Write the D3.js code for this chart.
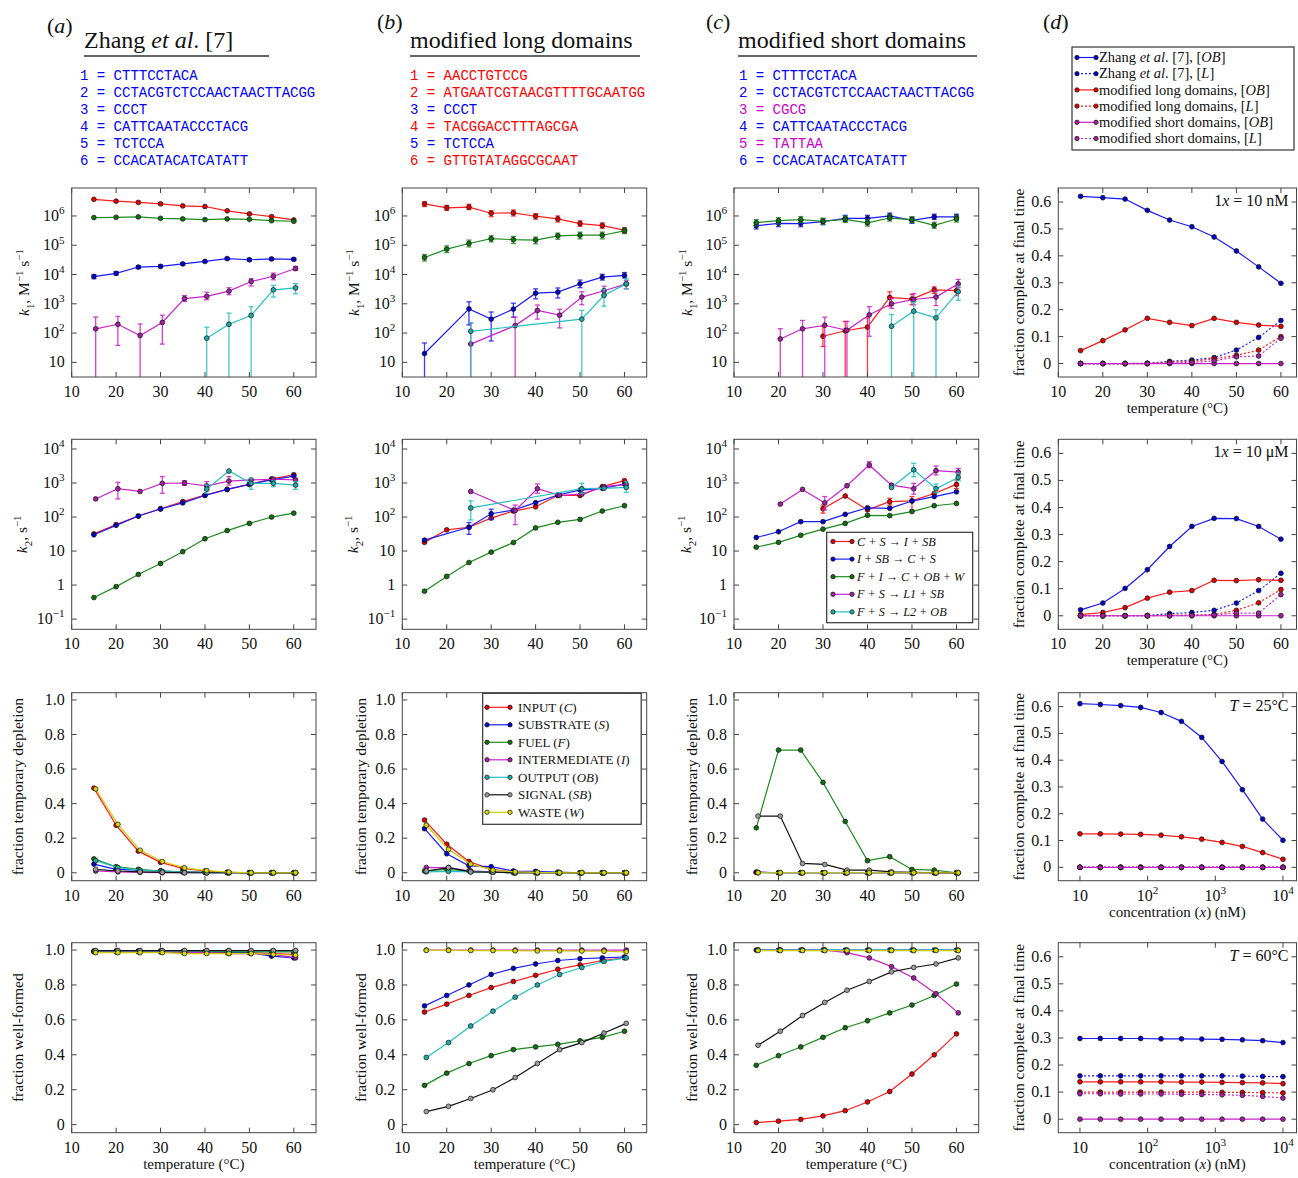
<!DOCTYPE html>
<html><head><meta charset="utf-8">
<script src="https://cdn.jsdelivr.net/npm/d3@7"></script>
<style>body{margin:0;background:#fff} text{font-family:"Liberation Serif","Times New Roman",serif;fill:#111}</style>
</head><body>
<script>
// ---------- axes values ----------
const temps = [15,20,25,30,35,40,45,50,55,60];
const tempsOff = [15.4,20.4,25.4,30.4,35.4,40.4,45.4,50.4,55.4,60.4];
const concs = [10,20,40,79,158,316,631,1259,2512,5012,10000];
const tempTicks = [10,20,30,40,50,60];
const k1Ticks = [10,1e2,1e3,1e4,1e5,1e6];
const k2Ticks = [0.1,1,10,1e2,1e3,1e4];
const fracTicks = [0,0.2,0.4,0.6,0.8,1.0];
const fcTicks = [0,0.1,0.2,0.3,0.4,0.5,0.6];
const concTicks = [10,1e2,1e3,1e4];
const reactionLabels = ["C + S \u2192 I + SB","I + SB \u2192 C + S","F + I \u2192 C + OB + W","F + S \u2192 L1 + SB","F + S \u2192 L2 + OB"];
const speciesLabels = [["INPUT","C"],["SUBSTRATE","S"],["FUEL","F"],["INTERMEDIATE","I"],["OUTPUT","OB"],["SIGNAL","SB"],["WASTE","W"]];
const seqA = ["CTTTCCTACA","CCTACGTCTCCAACTAACTTACGG","CCCT","CATTCAATACCCTACG","TCTCCA","CCACATACATCATATT"];
const seqB = ["AACCTGTCCG","ATGAATCGTAACGTTTTGCAATGG","CCCT","TACGGACCTTTAGCGA","TCTCCA","GTTGTATAGGCGCAAT"];
const seqC = ["CTTTCCTACA","CCTACGTCTCCAACTAACTTACGG","CGCG","CATTCAATACCCTACG","TATTAA","CCACATACATCATATT"];
const seqColB = ["red","red","blue","red","blue","red"];
const seqColC = ["blue","blue","magenta","blue","magenta","blue"];

// ---------- k1 (row 1) ----------
const k1A_C = [3.7e6,3.2e6,2.9e6,2.6e6,2.2e6,2.1e6,1.5e6,1.17e6,9.5e5,7.3e5];
const k1A_I = [8.5e3,1.1e4,1.8e4,1.9e4,2.3e4,2.8e4,3.5e4,3.2e4,3.4e4,3.3e4];
const k1A_Ilo = [7.2e3,9.5e3,1.6e4,1.7e4,2.1e4,2.6e4,3.2e4,2.9e4,3.1e4,3.0e4];
const k1A_Ihi = [1.0e4,1.25e4,2.0e4,2.1e4,2.5e4,3.0e4,3.8e4,3.5e4,3.7e4,3.6e4];
const k1A_F = [8.8e5,9.0e5,9.3e5,8.3e5,7.9e5,7.5e5,7.9e5,7.7e5,6.9e5,6.6e5];
const k1A_L1 = [140,200,83,230,1500,1800,2700,5800,8700,16000];
const k1A_L1lo = [1,38,1,42,1200,1380,2040,4070,6600,13800];
const k1A_L1hi = [355,370,204,407,1900,2500,3550,7240,11200,19000];
const k1A_L2 = [null,null,null,null,null,67,200,400,3000,3500];
const k1A_L2lo = [null,null,null,null,null,1,1,1,1700,2190];
const k1A_L2hi = [null,null,null,null,null,158,480,800,4270,4900];

const k1B_C = [2.6e6,1.9e6,2.0e6,1.24e6,1.27e6,9.8e5,7.9e5,5.5e5,4.7e5,3.3e5];
const k1B_Clo = [2.1e6,1.55e6,1.65e6,9.5e5,1.0e6,7.8e5,6.2e5,4.4e5,3.8e5,2.7e5];
const k1B_Chi = [3.0e6,2.3e6,2.5e6,1.5e6,1.6e6,1.2e6,1.0e6,6.8e5,5.8e5,4.0e5];
const k1B_I = [20,null,670,300,660,2300,2500,4800,8100,9300];
const k1B_Ilo = [1,null,190,54,350,1480,1580,3550,6460,7600];
const k1B_Ihi = [46,null,1175,525,1050,3240,3470,6460,10200,11700];
const k1B_F = [3.8e4,7.4e4,1.15e5,1.67e5,1.55e5,1.5e5,2.1e5,2.2e5,2.2e5,3.1e5];
const k1B_Flo = [2.9e4,5.6e4,8.8e4,1.3e5,1.15e5,1.12e5,1.6e5,1.65e5,1.65e5,2.5e5];
const k1B_Fhi = [4.8e4,9.5e4,1.5e5,2.1e5,2.0e5,1.9e5,2.6e5,2.8e5,2.8e5,3.8e5];
const k1B_L1 = [null,null,42,null,180,590,410,1700,2800,4800];
const k1B_L1lo = [null,null,1,null,1,300,150,930,1900,3240];
const k1B_L1hi = [null,null,220,null,355,910,650,2570,3980,6300];
const k1B_L2 = [null,null,115,null,null,null,null,300,1950,4800];
const k1B_L2lo = [null,null,1,null,null,null,null,1,830,3240];
const k1B_L2hi = [null,null,224,null,null,null,null,600,3100,7100];

const k1C_C = [null,null,null,78,120,160,1650,1450,3000,2800];
const k1C_Clo = [null,null,null,35,1,1,830,930,2240,1900];
const k1C_Chi = [null,null,null,170,250,330,2570,2100,3800,3800];
const k1C_I = [4.6e5,5.6e5,5.5e5,6.4e5,8.3e5,8.3e5,1.0e6,7.1e5,9.3e5,9.3e5];
const k1C_Ilo = [3.6e5,4.3e5,4.3e5,5.0e5,6.5e5,6.5e5,8.0e5,5.6e5,7.6e5,7.6e5];
const k1C_Ihi = [5.8e5,7.0e5,6.9e5,8.0e5,1.05e6,1.05e6,1.25e6,8.9e5,1.15e6,1.15e6];
const k1C_F = [5.9e5,6.9e5,7.5e5,6.6e5,7.7e5,5.8e5,8.5e5,7.5e5,4.8e5,7.9e5];
const k1C_Flo = [4.6e5,5.4e5,5.9e5,5.2e5,6.0e5,4.5e5,6.7e5,5.9e5,3.8e5,6.2e5];
const k1C_Fhi = [7.5e5,8.8e5,9.5e5,8.4e5,9.8e5,7.4e5,1.08e6,9.5e5,6.1e5,1.0e6];
const k1C_L1 = [null,63,140,185,125,420,1000,1400,1700,4800];
const k1C_L1lo = [null,1,1,1,1,78,700,930,870,3550];
const k1C_L1hi = [null,141,270,350,250,800,1500,2240,2700,6800];
const k1C_L2 = [null,null,null,null,null,null,170,560,330,2600];
const k1C_L2lo = [null,null,null,null,null,null,1,1,1,1320];
const k1C_L2hi = [null,null,null,null,null,null,430,1150,630,4000];

// ---------- k2 (row 2) ----------
const k2A_C = [32,60,107,175,285,440,650,910,1320,1750];
const k2A_I = [30,57,107,172,260,430,650,910,1230,1600];
const k2A_F = [0.43,0.9,2.05,4.3,9.6,23,40,65,100,130];
const k2A_L1 = [340,680,565,980,1000,820,1140,1230,1290,1230];
const k2A_L1lo = [null,340,null,500,850,620,870,null,null,null];
const k2A_L1hi = [null,1050,null,1550,1170,1100,1550,null,null,null];
const k2A_L2 = [null,null,null,null,null,660,2250,980,980,870];
const k2A_L2lo = [null,null,null,null,null,500,null,650,780,650];
const k2A_L2hi = [null,null,null,null,null,870,null,1380,1170,1100];

const k2B_C = [18,42,50,93,150,200,430,430,780,1170];
const k2B_I = [21,null,50,125,160,265,445,620,700,930];
const k2B_Ilo = [null,null,31,85,null,null,null,null,null,null];
const k2B_Ihi = [null,null,69,170,null,null,null,null,null,null];
const k2B_F = [0.66,1.8,4.6,9.3,17.8,48,70,85,150,215];
const k2B_L1 = [null,null,565,null,155,680,435,470,780,910];
const k2B_L1lo = [null,null,null,null,60,500,null,null,null,null];
const k2B_L1hi = [null,null,null,null,225,940,null,null,null,null];
const k2B_L2 = [null,null,185,null,null,null,null,680,700,740];
const k2B_L2lo = [null,null,82,null,null,null,null,500,null,525];
const k2B_L2hi = [null,null,300,null,null,null,null,980,null,1100];

const k2C_C = [null,null,null,175,415,162,282,300,490,910];
const k2C_Clo = [null,null,null,130,null,null,225,160,null,690];
const k2C_Chi = [null,null,null,225,null,null,355,400,null,1230];
const k2C_I = [25,37,73,73,120,187,180,295,400,550];
const k2C_F = [13,18,29,44,65,112,110,145,215,250];
const k2C_L1 = [null,240,650,260,830,3400,870,680,2300,2100];
const k2C_L1lo = [null,null,null,162,null,2830,null,470,1730,1730];
const k2C_L1hi = [null,null,null,400,null,4240,null,980,3160,2700];
const k2C_L2 = [null,null,null,null,null,null,740,2450,680,1460];
const k2C_L2lo = [null,null,null,null,null,null,null,1540,520,1170];
const k2C_L2hi = [null,null,null,null,null,null,null,3800,930,1930];

// ---------- temporary depletion (row 3) ----------
const depA_C = [0.49,0.275,0.125,0.06,0.025,0.01,0.003,0,0,0];
const depA_S = [0.05,0.02,0.015,0.01,0.005,0.003,0.002,0,0,0];
const depA_F = [0.08,0.035,0.02,0.01,0.005,0.002,0,0,0,0];
const depA_I = [0.01,0.005,0.002,0,0,0,0,0,0,0];
const depA_OB = [0.07,0.03,0.015,0.008,0.003,0,0,0,0,0];
const depA_SB = [0.02,0.01,0.005,0.002,0,0,0,0,0,0];
const depA_W = [0.485,0.28,0.13,0.065,0.028,0.012,0.004,0,0,0];

const depB_C = [0.305,0.165,0.065,0.02,0.005,0.002,0,0,0,0];
const depB_S = [0.255,0.11,0.04,0.035,0.01,0.008,0.004,0,0,0];
const depB_F = [0.01,0.02,0.01,0.005,0,0,0,0,0,0];
const depB_I = [0.03,0.03,0.01,0.005,0,0,0,0,0,0];
const depB_OB = [0.005,0.008,0.005,0.003,0,0,0,0,0,0];
const depB_SB = [0.01,0.03,0.005,0.003,0,0,0,0,0,0];
const depB_W = [0.275,0.135,0.05,0.015,0.005,0.002,0,0,0,0];

const depC_C = [0.003,0,0,0,0,0,0,0,0,0];
const depC_S = [0.003,0,0,0,0,0,0,0,0,0];
const depC_F = [0.26,0.71,0.71,0.523,0.297,0.07,0.093,0.019,0.015,0];
const depC_I = [0.002,0,0,0,0,0,0,0,0,0];
const depC_OB = [0,0,0,0,0,0,0,0,0,0];
const depC_SB = [0.328,0.328,0.054,0.048,0.015,0.015,0.005,0.003,0,0];
const depC_W = [0,0,0,0,0,0,0,0,0,0];

// ---------- well-formed (row 4) ----------
const wfA_C = [0.99,0.99,0.99,0.99,0.99,0.99,0.985,0.985,0.98,0.975];
const wfA_S = [0.995,0.995,0.995,0.995,0.99,0.99,0.99,0.985,0.965,0.955];
const wfA_F = [0.99,0.99,0.99,0.99,0.99,0.99,0.99,0.99,0.99,0.99];
const wfA_I = [0.99,0.99,0.99,0.99,0.99,0.985,0.98,0.98,0.975,0.955];
const wfA_OB = [0.995,0.995,0.995,0.995,0.995,0.995,0.995,0.995,0.995,0.995];
const wfA_SB = [0.997,0.997,0.997,0.997,0.997,0.997,0.997,0.997,0.997,0.997];
const wfA_W = [0.985,0.985,0.985,0.985,0.98,0.98,0.98,0.98,0.975,0.97];

const wfB_C = [0.645,0.69,0.74,0.785,0.82,0.855,0.89,0.915,0.94,0.955];
const wfB_S = [0.68,0.74,0.8,0.86,0.895,0.92,0.94,0.95,0.955,0.96];
const wfB_F = [0.225,0.295,0.35,0.395,0.43,0.445,0.46,0.48,0.5,0.535];
const wfB_I = [1,1,1,1,1,1,1,1,1,1];
const wfB_OB = [0.385,0.47,0.565,0.65,0.73,0.8,0.86,0.9,0.935,0.955];
const wfB_SB = [0.075,0.105,0.15,0.2,0.27,0.35,0.43,0.47,0.525,0.58];
const wfB_W = [0.998,0.998,0.997,0.997,0.996,0.995,0.995,0.994,0.993,0.99];

const wfC_C = [0.012,0.02,0.03,0.05,0.08,0.13,0.19,0.29,0.4,0.52];
const wfC_S = [1,1,1,1,1,1,1,1,1,1];
const wfC_F = [0.34,0.395,0.445,0.5,0.555,0.595,0.64,0.685,0.74,0.805];
const wfC_I = [1,1,1,1,0.985,0.955,0.905,0.84,0.75,0.64];
const wfC_OB = [1,1,1,1,1,1,1,1,1,1];
const wfC_SB = [0.455,0.535,0.625,0.7,0.77,0.82,0.875,0.9,0.92,0.955];
const wfC_W = [0.997,0.997,0.997,0.997,0.997,0.997,0.997,0.997,0.997,0.997];

// ---------- fraction complete (column d) ----------
const fc10nM_ZOB = [0.621,0.616,0.611,0.569,0.533,0.508,0.47,0.418,0.359,0.298];
const fc10nM_ZL  = [0,0,0,0.001,0.008,0.013,0.022,0.05,0.097,0.16];
const fc10nM_LOB = [0.048,0.085,0.125,0.168,0.153,0.141,0.168,0.153,0.143,0.138];
const fc10nM_LL  = [0,0,0,0,0.005,0.008,0.018,0.03,0.05,0.1];
const fc10nM_SOB = [0,0,0,0,0,0,0,0,0,0];
const fc10nM_SL  = [0,0,0,0,0.002,0.004,0.01,0.025,0.028,0.094];

const fc10uM_ZOB = [0.022,0.047,0.101,0.17,0.256,0.33,0.36,0.359,0.33,0.283];
const fc10uM_ZL  = [0,0,0,0.001,0.008,0.012,0.02,0.047,0.093,0.157];
const fc10uM_LOB = [0.004,0.012,0.03,0.065,0.087,0.093,0.131,0.13,0.133,0.131];
const fc10uM_LL  = [0,0,0,0,0.002,0.003,0.005,0.02,0.048,0.097];
const fc10uM_SOB = [0,0,0,0,0,0,0,0,0,0];
const fc10uM_SL  = [0,0,0,0,0,0.001,0.003,0.01,0.01,0.078];

const fcT25_ZOB = [0.611,0.608,0.604,0.597,0.578,0.545,0.485,0.395,0.29,0.18,0.101];
const fcT25_ZL  = [0,0,0,0,0,0,0,0,0,0,0];
const fcT25_LOB = [0.125,0.125,0.124,0.123,0.12,0.114,0.105,0.093,0.078,0.055,0.03];
const fcT25_LL  = [0,0,0,0,0,0,0,0,0,0,0];
const fcT25_SOB = [0,0,0,0,0,0,0,0,0,0,0];
const fcT25_SL  = [0,0,0,0,0,0,0,0,0,0,0];

const fcT60_ZOB = [0.298,0.298,0.298,0.298,0.297,0.297,0.296,0.295,0.293,0.29,0.283];
const fcT60_ZL  = [0.16,0.16,0.16,0.16,0.16,0.16,0.16,0.16,0.159,0.158,0.157];
const fcT60_LOB = [0.138,0.138,0.138,0.138,0.138,0.137,0.137,0.136,0.135,0.134,0.131];
const fcT60_LL  = [0.1,0.1,0.1,0.1,0.1,0.1,0.1,0.099,0.099,0.098,0.097];
const fcT60_SOB = [0,0,0,0,0,0,0,0,0,0,0];
const fcT60_SL  = [0.094,0.094,0.093,0.093,0.093,0.092,0.091,0.09,0.088,0.084,0.078];

// ---------- styling ----------
const LINE = {red:"#ff1a1a", blue:"#1a1aff", green:"#1e8c1e", magenta:"#cc22cc", cyan:"#22c0c0", black:"#111111", yellow:"#cccc00"};
const FILL = {red:"#e00000", blue:"#0000c8", green:"#0f700f", magenta:"#a020a0", cyan:"#20a8a8", black:"#9a9a9a", yellow:"#d8d800"};
const SEQCOL = {blue:"#0000ff", red:"#ff0000", magenta:"#cc00cc"};
const reactionKeys = ["red","blue","green","magenta","cyan"];
const speciesKeys = ["red","blue","green","magenta","cyan","black","yellow"];

const svg = d3.select("body").append("svg").attr("width",1298).attr("height",1178);
const defs = svg.append("defs");

function rich(t, parts, size) {
  let cur = 0;
  parts.forEach(p => {
    const [txt, st] = Array.isArray(p) ? p : [p, ""];
    const ts = t.append("tspan").text(txt);
    let target = 0;
    if (st && st.includes("sup")) target = -0.42*size;
    if (st && st.includes("sub")) target = 0.3*size;
    if (target !== cur) ts.attr("dy", target - cur);
    cur = target;
    if (st && (st.includes("sup")||st.includes("sub"))) ts.attr("font-size", size*0.7);
    if (st && st.includes("i")) ts.attr("font-style","italic");
  });
  return t;
}
function logParts(v) {
  const e = Math.round(Math.log10(v));
  if (e === 0) return ["1"];
  if (e === 1) return ["10"];
  return ["10", [e < 0 ? "\u2212" + (-e) : String(e), "sup"]];
}

let clipN = 0;
function panel(p) {
  const g = svg.append("g");
  const x = p.x, y = p.y;
  const [x0, x1] = x.range();
  const [yb, yt] = y.range();
  const id = "clip" + (clipN++);
  defs.append("clipPath").attr("id", id).append("rect")
    .attr("x", x0).attr("y", yt).attr("width", x1 - x0).attr("height", yb - yt);
  const inner = g.append("g").attr("clip-path", `url(#${id})`);
  p.series.forEach(s => {
    const pts = s.y.map((v, i) => ({x: s.x[i], y: v, lo: s.lo ? s.lo[i] : null, hi: s.hi ? s.hi[i] : null}))
      .filter(d => d.y != null);
    const col = LINE[s.key];
    pts.filter(d => d.lo != null && d.hi != null).forEach(d => {
      const px = x(d.x), a = y(d.lo), b = y(d.hi);
      inner.append("line").attr("x1", px).attr("x2", px).attr("y1", a).attr("y2", b)
        .attr("stroke", col).attr("stroke-width", 1.3).attr("opacity", 0.85);
      [a, b].forEach(c => inner.append("line").attr("x1", px - 2.5).attr("x2", px + 2.5).attr("y1", c).attr("y2", c)
        .attr("stroke", col).attr("stroke-width", 1.3).attr("opacity", 0.85));
    });
    inner.append("path").datum(pts)
      .attr("d", d3.line().x(d => x(d.x)).y(d => y(d.y)))
      .attr("fill", "none").attr("stroke", col).attr("stroke-width", 1.2)
      .attr("stroke-dasharray", s.dash ? "2,2" : null);
    inner.selectAll(null).data(pts).join("circle")
      .attr("cx", d => x(d.x)).attr("cy", d => y(d.y)).attr("r", 2.4)
      .attr("fill", FILL[s.key]).attr("stroke", "#111").attr("stroke-width", 0.7);
  });
  // frame
  g.append("rect").attr("x", x0).attr("y", yt).attr("width", x1 - x0).attr("height", yb - yt)
    .attr("fill", "none").attr("stroke", "#444").attr("stroke-width", 1);
  // ticks
  p.xTicks.forEach(v => {
    const px = x(v);
    g.append("line").attr("x1", px).attr("x2", px).attr("y1", yb).attr("y2", yb - 5).attr("stroke", "#444");
    g.append("line").attr("x1", px).attr("x2", px).attr("y1", yt).attr("y2", yt + 5).attr("stroke", "#444");
    const t = g.append("text").attr("x", px).attr("y", yb + 20).attr("text-anchor", "middle").attr("font-size", 16);
    rich(t, p.xFmt(v), 16);
  });
  p.yTicks.forEach(v => {
    const py = y(v);
    g.append("line").attr("x1", x0).attr("x2", x0 + 5).attr("y1", py).attr("y2", py).attr("stroke", "#444");
    g.append("line").attr("x1", x1).attr("x2", x1 - 5).attr("y1", py).attr("y2", py).attr("stroke", "#444");
    const t = g.append("text").attr("x", x0 - 7).attr("y", py + 5).attr("text-anchor", "end").attr("font-size", 16);
    rich(t, p.yFmt(v), 16);
  });
  // y label
  if (p.yLabel) {
    const cy = (yt + yb) / 2;
    const t = g.append("text").attr("transform", `translate(${p.yLabelX},${cy}) rotate(-90)`)
      .attr("text-anchor", "middle").attr("font-size", 15.5).attr("dy", "0.35em");
    rich(t, p.yLabel, 15.5);
  }
  if (p.xLabel) {
    const t = g.append("text").attr("x", (x0 + x1) / 2).attr("y", yb + 36).attr("text-anchor", "middle").attr("font-size", 15);
    rich(t, p.xLabel, 15);
  }
  if (p.note) {
    const t = g.append("text").attr("x", x1 - 8).attr("y", yt + 18).attr("text-anchor", "end").attr("font-size", 16);
    rich(t, p.note, 16);
  }
  return g;
}

// ---------- layout ----------
const colX = [71.7, 402.3, 734, 1058.3];
const colR = [316, 646.7, 978.7, 1296.5];
const rowT = [188, 439.3, 692.7, 942.7];
const rowB = [377, 629.3, 880.7, 1132.7];
const labX = [[24, 354, 687, 1019], [22, 353, 686, 1019], [18, 361, 692, 1019], [18, 361, 692, 1019]];

const fmtPlain = v => [String(v)];
const fmtFrac = v => [v === 0 ? "0" : v.toFixed(1)];
const k1Label = [["k","i"],["1","sub"],", M",["\u22121","sup"]," s",["\u22121","sup"]];
const k2Label = [["k","i"],["2","sub"],", s",["\u22121","sup"]];
const tempLabel = ["temperature (\u00b0C)"];

function sx(c) { return d3.scaleLinear([10, 65], [colX[c], colR[c]]); }

const k1Data = [
  [[k1A_C,null,null],[k1A_I,k1A_Ilo,k1A_Ihi],[k1A_F,null,null],[k1A_L1,k1A_L1lo,k1A_L1hi],[k1A_L2,k1A_L2lo,k1A_L2hi]],
  [[k1B_C,k1B_Clo,k1B_Chi],[k1B_I,k1B_Ilo,k1B_Ihi],[k1B_F,k1B_Flo,k1B_Fhi],[k1B_L1,k1B_L1lo,k1B_L1hi],[k1B_L2,k1B_L2lo,k1B_L2hi]],
  [[k1C_C,k1C_Clo,k1C_Chi],[k1C_I,k1C_Ilo,k1C_Ihi],[k1C_F,k1C_Flo,k1C_Fhi],[k1C_L1,k1C_L1lo,k1C_L1hi],[k1C_L2,k1C_L2lo,k1C_L2hi]]
];
const k2Data = [
  [[k2A_C,null,null],[k2A_I,null,null],[k2A_F,null,null],[k2A_L1,k2A_L1lo,k2A_L1hi],[k2A_L2,k2A_L2lo,k2A_L2hi]],
  [[k2B_C,null,null],[k2B_I,k2B_Ilo,k2B_Ihi],[k2B_F,null,null],[k2B_L1,k2B_L1lo,k2B_L1hi],[k2B_L2,k2B_L2lo,k2B_L2hi]],
  [[k2C_C,k2C_Clo,k2C_Chi],[k2C_I,null,null],[k2C_F,null,null],[k2C_L1,k2C_L1lo,k2C_L1hi],[k2C_L2,k2C_L2lo,k2C_L2hi]]
];
const depData = [
  [depA_C,depA_S,depA_F,depA_I,depA_OB,depA_SB,depA_W],
  [depB_C,depB_S,depB_F,depB_I,depB_OB,depB_SB,depB_W],
  [depC_C,depC_S,depC_F,depC_I,depC_OB,depC_SB,depC_W]
];
const wfData = [
  [wfA_C,wfA_S,wfA_F,wfA_I,wfA_OB,wfA_SB,wfA_W],
  [wfB_C,wfB_S,wfB_F,wfB_I,wfB_OB,wfB_SB,wfB_W],
  [wfC_C,wfC_S,wfC_F,wfC_I,wfC_OB,wfC_SB,wfC_W]
];
const shifted = [false,false,false,true,true,true,true];

for (let c = 0; c < 3; c++) {
  panel({
    x: sx(c), y: d3.scaleLog([Math.pow(10,0.5), Math.pow(10,6.955)], [rowB[0], rowT[0]]),
    xTicks: tempTicks, yTicks: k1Ticks, xFmt: fmtPlain, yFmt: logParts,
    yLabel: k1Label, yLabelX: labX[0][c],
    series: k1Data[c].map((d, i) => ({x: i >= 3 ? tempsOff : temps, y: d[0], lo: d[1], hi: d[2], key: reactionKeys[i]}))
  });
  panel({
    x: sx(c), y: d3.scaleLog([Math.pow(10,-1.3), Math.pow(10,4.285)], [rowB[1], rowT[1]]),
    xTicks: tempTicks, yTicks: k2Ticks, xFmt: fmtPlain, yFmt: logParts,
    yLabel: k2Label, yLabelX: labX[1][c],
    series: k2Data[c].map((d, i) => ({x: i >= 3 ? tempsOff : temps, y: d[0], lo: d[1], hi: d[2], key: reactionKeys[i]}))
  });
  panel({
    x: sx(c), y: d3.scaleLinear([-0.046, 1.042], [rowB[2], rowT[2]]),
    xTicks: tempTicks, yTicks: fracTicks, xFmt: fmtPlain, yFmt: fmtFrac,
    yLabel: ["fraction temporary depletion"], yLabelX: labX[2][c],
    series: depData[c].map((d, i) => ({x: shifted[i] ? tempsOff : temps, y: d, key: speciesKeys[i]}))
  });
  panel({
    x: sx(c), y: d3.scaleLinear([-0.046, 1.042], [rowB[3], rowT[3]]),
    xTicks: tempTicks, yTicks: fracTicks, xFmt: fmtPlain, yFmt: fmtFrac,
    yLabel: ["fraction well-formed"], yLabelX: labX[3][c], xLabel: tempLabel,
    series: wfData[c].map((d, i) => ({x: shifted[i] ? tempsOff : temps, y: d, key: speciesKeys[i]}))
  });
}

// column d
const fcKeys = ["blue","blue","red","red","magenta","magenta"];
const fcDash = [false,true,false,true,false,true];
const fcRows = [
  [fc10nM_ZOB,fc10nM_ZL,fc10nM_LOB,fc10nM_LL,fc10nM_SOB,fc10nM_SL],
  [fc10uM_ZOB,fc10uM_ZL,fc10uM_LOB,fc10uM_LL,fc10uM_SOB,fc10uM_SL],
  [fcT25_ZOB,fcT25_ZL,fcT25_LOB,fcT25_LL,fcT25_SOB,fcT25_SL],
  [fcT60_ZOB,fcT60_ZL,fcT60_LOB,fcT60_LL,fcT60_SOB,fcT60_SL]
];
const fcNotes = [
  ["1",["x","i"]," = 10 nM"],
  ["1",["x","i"]," = 10 \u03bcM"],
  [["T","i"]," = 25\u00b0C"],
  [["T","i"]," = 60\u00b0C"]
];
const concLabel = ["concentration (",["x","i"],") (nM)"];
for (let r = 0; r < 4; r++) {
  const isT = r < 2;
  const xs = isT ? d3.scaleLinear([10, 63.5], [colX[3], colR[3]])
                 : d3.scaleLog([Math.pow(10,0.68), Math.pow(10,4.2)], [colX[3], colR[3]]);
  panel({
    x: xs, y: d3.scaleLinear([-0.05, 0.652], [rowB[r], rowT[r]]),
    xTicks: isT ? tempTicks : concTicks, yTicks: fcTicks,
    xFmt: isT ? fmtPlain : logParts, yFmt: v => [v === 0 ? "0" : v.toFixed(1)],
    yLabel: ["fraction complete at final time"], yLabelX: labX[r][3],
    xLabel: isT ? tempLabel : concLabel, note: fcNotes[r],
    series: fcRows[r].map((d, i) => ({x: isT ? temps : concs, y: d, key: fcKeys[i], dash: fcDash[i]}))
  });
}

// ---------- legends ----------
function legend(box, rows, opts) {
  svg.append("rect").attr("x", box[0]).attr("y", box[1]).attr("width", box[2]).attr("height", box[3])
    .attr("fill", "#fff").attr("stroke", "#333").attr("stroke-width", 1.2);
  rows.forEach((r, i) => {
    const cy = opts.y0 + i * opts.dy;
    svg.append("line").attr("x1", opts.lx0).attr("x2", opts.lx1).attr("y1", cy).attr("y2", cy)
      .attr("stroke", LINE[r.key]).attr("stroke-width", 1.2).attr("stroke-dasharray", r.dash ? "2,2" : null);
    [opts.lx0, opts.lx1].forEach(cx => svg.append("circle").attr("cx", cx).attr("cy", cy).attr("r", 2.2)
      .attr("fill", FILL[r.key]).attr("stroke", "#111").attr("stroke-width", 0.7));
    const t = svg.append("text").attr("x", opts.tx).attr("y", cy + opts.size * 0.33).attr("font-size", opts.size);
    rich(t, r.parts, opts.size);
  });
}
legend([826.7, 532.3, 146, 90.4], reactionLabels.map((l, i) => ({key: reactionKeys[i], parts: [[l, "i"]]})),
  {y0: 541.5, dy: 17.6, lx0: 833, lx1: 852, tx: 857, size: 12.2});
legend([482.7, 693.3, 158.5, 131], speciesLabels.map((l, i) => ({key: speciesKeys[i], parts: [l[0] + " (", [l[1], "i"], ")"]})),
  {y0: 707.3, dy: 17.5, lx0: 487, lx1: 510, tx: 518, size: 13});
const fcLegendParts = [
  ["Zhang ",["et al","i"],". [7],  [",["OB","i"],"]"],
  ["Zhang ",["et al","i"],". [7],  [",["L","i"],"]"],
  ["modified long domains, [",["OB","i"],"]"],
  ["modified long domains, [",["L","i"],"]"],
  ["modified short domains, [",["OB","i"],"]"],
  ["modified short domains, [",["L","i"],"]"]
];
legend([1072, 47, 222, 103], fcLegendParts.map((p, i) => ({key: fcKeys[i], dash: fcDash[i], parts: p})),
  {y0: 57.5, dy: 16.2, lx0: 1077, lx1: 1096, tx: 1099, size: 14.5});

// ---------- headings ----------
const heads = [
  {lab: "a", lx: 47, ly: 33, title: ["Zhang ",["et al","i"],". [7]"], tx: 84, ul: [84, 269], seq: seqA, cols: seqA.map(() => "blue"), sx: 80},
  {lab: "b", lx: 377, ly: 29, title: ["modified long domains"], tx: 410, ul: [410, 640], seq: seqB, cols: seqColB, sx: 410},
  {lab: "c", lx: 706, ly: 29, title: ["modified short domains"], tx: 738, ul: [738, 977], seq: seqC, cols: seqColC, sx: 739}
];
heads.forEach(h => {
  rich(svg.append("text").attr("x", h.lx).attr("y", h.ly).attr("font-size", 22), ["(", [h.lab, "i"], ")"], 22);
  rich(svg.append("text").attr("x", h.tx).attr("y", 48).attr("font-size", 24), h.title, 24);
  svg.append("line").attr("x1", h.ul[0]).attr("x2", h.ul[1]).attr("y1", 56).attr("y2", 56).attr("stroke", "#333").attr("stroke-width", 1.6);
  h.seq.forEach((s, i) => {
    svg.append("text").attr("x", h.sx).attr("y", 79.5 + i * 17)
      .style("font-family", "'Liberation Mono','DejaVu Sans Mono',monospace")
      .attr("font-size", 14).style("fill", SEQCOL[h.cols[i]])
      .text((i + 1) + " = " + s);
  });
});
rich(svg.append("text").attr("x", 1043).attr("y", 29).attr("font-size", 22), ["(", ["d", "i"], ")"], 22);
</script>
</body></html>
